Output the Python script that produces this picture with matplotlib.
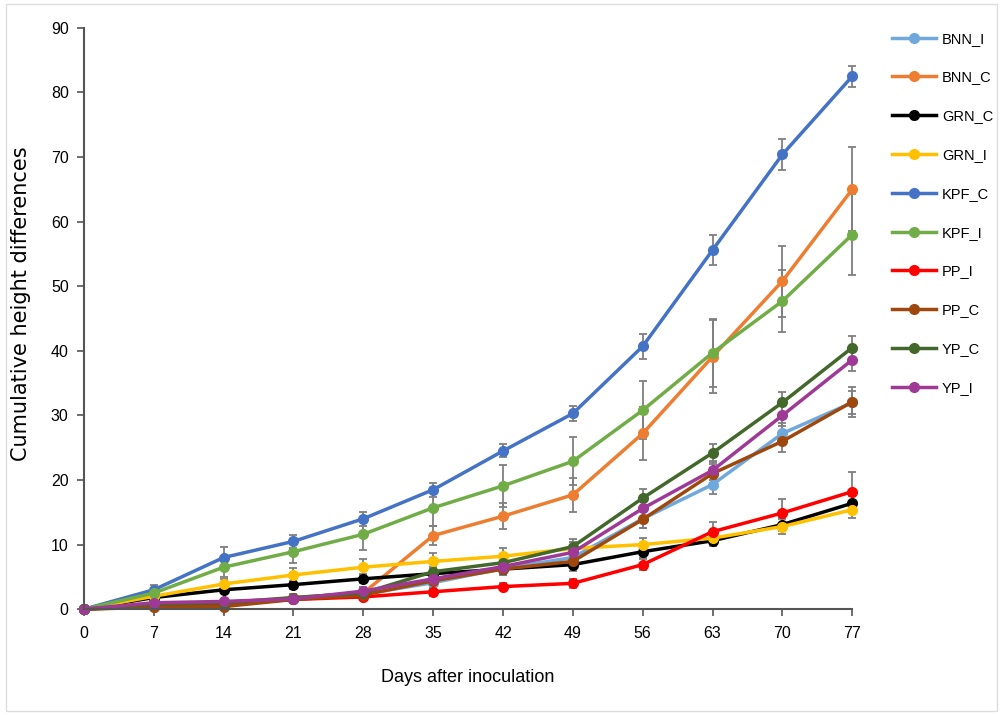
import matplotlib.pyplot as plt
from matplotlib.lines import Line2D
from matplotlib.patches import Rectangle

plt.rcParams['font.family'] = ['Liberation Sans', 'DejaVu Sans']

days = [0, 7, 14, 21, 28, 35, 42, 49, 56, 63, 70, 77]

names = ["BNN_I", "BNN_C", "GRN_C", "GRN_I", "KPF_C", "KPF_I", "PP_I", "PP_C", "YP_C", "YP_I"]
colors = ["#6fa8dc", "#ed7d31", "#000000", "#ffc000", "#4472c4",
          "#70ad47", "#ff0000", "#9e480e", "#43682b", "#9e3a95"]

bnn_i = [0, 0.5, 0.8, 1.6, 2.3, 4.1, 6.3, 8.0, 14.0, 19.3, 27.2, 32.0]
bnn_c = [0, 0.4, 0.5, 1.8, 2.5, 11.4, 14.4, 17.7, 27.2, 39.1, 50.8, 65.0]
grn_c = [0, 1.8, 3.0, 3.8, 4.7, 5.5, 6.2, 6.9, 8.9, 10.6, 13.1, 16.4]
grn_i = [0, 2.0, 3.9, 5.3, 6.5, 7.4, 8.2, 9.4, 10.0, 11.0, 12.8, 15.4]
kpf_c = [0, 3.0, 8.0, 10.5, 14.0, 18.5, 24.5, 30.3, 40.7, 55.6, 70.4, 82.5]
kpf_i = [0, 2.5, 6.5, 8.9, 11.6, 15.7, 19.1, 22.9, 30.8, 39.7, 47.7, 58.0]
pp_i = [0, 0.6, 0.8, 1.5, 1.9, 2.7, 3.5, 4.0, 6.9, 12.0, 14.9, 18.2]
pp_c = [0, 0.3, 0.4, 1.5, 2.2, 4.4, 6.2, 7.4, 13.9, 21.0, 26.0, 32.1]
yp_c = [0, 0.8, 1.0, 1.8, 2.5, 5.8, 7.2, 9.7, 17.2, 24.2, 32.0, 40.5]
yp_i = [0, 1.0, 1.2, 1.6, 2.8, 4.7, 6.6, 8.8, 15.6, 21.5, 30.0, 38.6]

bnn_i_err = [0, 0.3, 0.4, 0.5, 0.6, 0.8, 1.0, 1.2, 1.5, 1.5, 1.7, 1.8]
bnn_c_err = [0, 0.3, 0.4, 0.6, 0.8, 1.5, 2.0, 2.6, 4.1, 5.6, 5.5, 6.5]
grn_c_err = [0, 0.3, 0.5, 0.6, 0.7, 0.8, 0.9, 1.0, 1.0, 0.8, 1.0, 1.2]
grn_i_err = [0, 0.4, 0.8, 1.0, 1.2, 1.3, 1.2, 1.0, 1.0, 0.9, 1.2, 1.3]
kpf_c_err = [0, 0.8, 1.6, 1.0, 1.1, 1.1, 1.0, 1.2, 1.9, 2.3, 2.4, 1.6]
kpf_i_err = [0, 0.6, 1.5, 1.8, 2.5, 2.8, 3.3, 3.7, 4.5, 5.3, 4.8, 6.3]
pp_i_err = [0, 0.2, 0.3, 0.4, 0.5, 0.6, 0.6, 0.7, 0.9, 1.5, 2.2, 3.1]
pp_c_err = [0, 0.2, 0.3, 0.4, 0.5, 0.7, 0.8, 1.0, 1.4, 1.5, 1.6, 2.3]
yp_c_err = [0, 0.3, 0.4, 0.5, 0.6, 0.8, 1.0, 1.1, 1.4, 1.4, 1.6, 1.8]
yp_i_err = [0, 0.3, 0.4, 0.5, 0.6, 0.8, 0.9, 1.0, 1.4, 1.5, 1.6, 1.7]

series = [bnn_i, bnn_c, grn_c, grn_i, kpf_c, kpf_i, pp_i, pp_c, yp_c, yp_i]
errors = [bnn_i_err, bnn_c_err, grn_c_err, grn_i_err, kpf_c_err, kpf_i_err,
          pp_i_err, pp_c_err, yp_c_err, yp_i_err]

fig = plt.figure(figsize=(10.03, 7.15), dpi=100)
ax = fig.add_axes([0.0837, 0.148, 0.766, 0.813])

handles = []
for name, col, vals, err in zip(names, colors, series, errors):
    ax.errorbar(days, vals, yerr=err, color=col, ecolor="#7f7f7f",
                elinewidth=1.3, capsize=3, capthick=1.3,
                marker="o", markersize=7, linewidth=2.5, clip_on=False)
    handles.append(Line2D([], [], color=col, marker="o", markersize=7,
                          linewidth=2.5, label=name))

ax.set_xlim(0, 77)
ax.set_ylim(0, 90)
ax.set_xticks(days)
ax.set_yticks(range(0, 91, 10))
ax.tick_params(labelsize=11.5, length=5, width=1.2, color="#555555")
ax.tick_params(axis="x", pad=7)
ax.tick_params(axis="y", pad=6)
for s in ["top", "right"]:
    ax.spines[s].set_visible(False)
for s in ["left", "bottom"]:
    ax.spines[s].set_color("#555555")
    ax.spines[s].set_linewidth(1.5)

ax.set_xlabel("Days after inoculation", fontsize=13)
ax.xaxis.set_label_coords(0.5, -0.103)
ax.set_ylabel("Cumulative height differences", fontsize=15, family="DejaVu Sans")
ax.yaxis.set_label_coords(-0.069, 0.525)

ax.legend(handles=handles, loc="upper left", bbox_to_anchor=(0.876, 0.974),
          bbox_transform=fig.transFigure, frameon=False,
          fontsize=10.5, handlelength=3.0, labelspacing=1.7, handletextpad=0.45)

fig.patches.append(Rectangle((0.006, 0.006), 0.988, 0.988, transform=fig.transFigure,
                             fill=False, edgecolor="#dddddd", linewidth=1))

plt.savefig("out.png", dpi=100)
